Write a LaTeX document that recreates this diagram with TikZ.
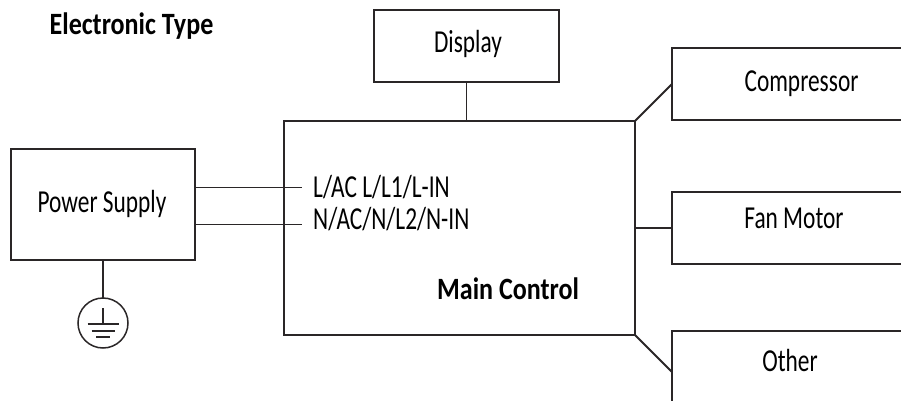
\documentclass[tikz,border=0pt]{standalone}
\usepackage{fontspec}
\setmainfont[FakeStretch=0.73,BoldFeatures={FakeStretch=0.84}]{Carlito}
\tikzset{
box/.style={draw=ink,line width=2.6pt,anchor=north west,inner sep=0,outer sep=0},
lbl/.style={font=\fontsize{32}{36}\selectfont,inner sep=0,text=black},
blbl/.style={font=\fontsize{31}{35}\selectfont\bfseries,inner sep=0,text=black},
wire/.style={draw=ink,line width=1.8pt},
openbox/.style={draw=ink,line width=2.6pt,line cap=butt,line join=miter}}
\definecolor{ink}{HTML}{2A2627}
\begin{document}
\begin{tikzpicture}[x=1pt,y=-1pt]
\useasboundingbox (0,0) rectangle (901,401);
\node[box,minimum width=351,minimum height=214] (main) at (284,121) {};
\node[box,minimum width=184,minimum height=111] (psu) at (11,149) {};
\node[box,minimum width=185,minimum height=72] (disp) at (374,10) {};
\coordinate (cTL) at (672,48); \coordinate (cBL) at (672,120);
\coordinate (cTR) at (901,48); \coordinate (cBR) at (901,120);
\coordinate (fTL) at (672,192); \coordinate (fBL) at (672,264);
\coordinate (fTR) at (901,192); \coordinate (fBR) at (901,264);
\coordinate (oTL) at (672,331); \coordinate (oTR) at (901,331); \coordinate (oBL) at (672,401);
\draw[openbox] (cTR) -- (cTL) -- (cBL) -- (cBR);
\draw[openbox] (fTR) -- (fTL) -- (fBL) -- (fBR);
\draw[openbox] (oTR) -- (oTL) -- (oBL);
\node[blbl,anchor=base] (title) at (131.5,35) {Electronic Type};
\node[lbl,anchor=base] (tdisp) at (468,53) {Display};
\node[lbl,anchor=base] (tpsu) at (102,212) {Power Supply};
\node[lbl,anchor=base] (tcomp) at (801.5,92) {Compressor};
\node[lbl,anchor=base] (tfan) at (794,228) {Fan Motor};
\node[lbl,anchor=base] (toth) at (790,371) {Other};
\node[lbl,anchor=base west] (tl) at (313,197) {L/AC L/L1/L-IN};
\node[lbl,anchor=base west] (tn) at (313,229) {N/AC/N/L2/N-IN};
\node[blbl,anchor=base] (tmain) at (508,299) {Main Control};
\coordinate (mTR) at (635,121); \coordinate (mBR) at (635,335);
\coordinate (cIn) at (672,84); \coordinate (oIn) at (672,372);
\coordinate (lEnd) at (302,187.5); \coordinate (nEnd) at (302,224.5);
\coordinate (lStart) at (195,187.5); \coordinate (nStart) at (195,224.5);
\coordinate (fStart) at (635,228); \coordinate (fEnd) at (672,228);
\draw[wire] (mTR) -- (cIn);
\draw[wire] (mBR) -- (oIn);
\draw[wire] (fStart) -- (fEnd);
\draw[wire] (disp.south) -- (disp.south |- main.north);
\draw[wire] (lStart) -- (lEnd);
\draw[wire] (nStart) -- (nEnd);
\node[draw=ink,line width=1.5pt,circle,minimum size=50,inner sep=0,outer sep=0] (gnd) at (103,323) {};
\draw[wire] (gnd.north |- psu.south) -- (gnd.north);
\coordinate (g0) at (103,308); \coordinate (g1) at (103,324);
\coordinate (a0) at (87.5,324); \coordinate (a1) at (119,324);
\coordinate (b0) at (91.5,331); \coordinate (b1) at (115,331);
\coordinate (c0) at (96,337); \coordinate (c1) at (110,337);
\draw[wire] (g0) -- (g1);
\draw[wire] (a0) -- (a1);
\draw[wire] (b0) -- (b1);
\draw[wire,line width=1.8pt] (c0) -- (c1);
\end{tikzpicture}
\end{document}
